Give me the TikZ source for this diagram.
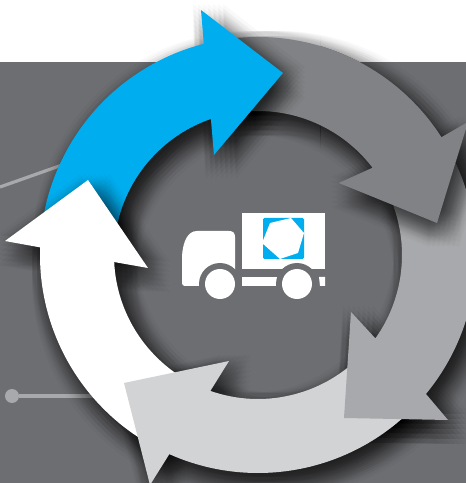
\documentclass[tikz,border=0pt]{standalone}
\usepackage{amsmath,amssymb}

\definecolor{plate}{HTML}{6D6E71}
\definecolor{skyarrow}{HTML}{00AEEF}
\definecolor{darkarrow}{HTML}{808285}
\definecolor{midarrow}{HTML}{A7A9AC}
\definecolor{palearrow}{HTML}{D1D3D4}

% outer arc from #1 to #2, the head #3, inner arc from #4 back to #1
\newcommand{\bandarrow}[4]{({258+218*cos(#1)},{228+218*sin(#1)}) arc[start angle=#1, end angle=#2, radius=218] #3
  -- ({258+144*cos(#4)},{228+144*sin(#4)}) arc[start angle=#4, end angle=#1, radius=144] -- cycle}
\newcommand{\softshadow}[1]{\foreach \dx in {-15,-10,...,15}{\foreach \dy in {-15,-10,...,15}{\fill[shadowlayer, shift={(7+\dx,-9+\dy)}] #1;}}}

\newcommand{\skypath}{\bandarrow{175}{104.4}{-- (201,473) -- (283,410) -- (214,328)}{109.1}}
\newcommand{\darkpath}{\bandarrow{100}{32.7}{-- (468,361) -- (437,260) -- (339,300)}{37.3}}
\newcommand{\midpath}{\bandarrow{25}{-39.6}{-- (448,63) -- (344,65) -- (351,171)}{-35.4}}
\newcommand{\palepath}{\bandarrow{-45}{-114}{-- (150,-2) -- (124,100) -- (229,122)}{-109.3}}
\newcommand{\whitepath}{\bandarrow{243}{178}{-- (5,242) -- (88,303) -- (148,215)}{182.8}}

\begin{document}
\begin{tikzpicture}[
  x=0.75pt, y=0.75pt,
  shadowlayer/.style={black, fill opacity=0.024},
  leader/.style={midarrow, line width=2.4pt},
  truckpart/.style={fill=white},
  wheelgap/.style={fill=plate, circle, minimum size=31.5pt, inner sep=0pt},
  wheelnode/.style={fill=white, circle, minimum size=22.5pt, inner sep=0pt}]
\useasboundingbox (0,0) rectangle (466,483);
\fill[white] (0,0) rectangle (466,483);
\fill[plate] (0,0) rectangle (466,421);

% leaders behind the ring
\node[fill=midarrow, circle, minimum size=10.5pt, inner sep=0pt] (dot) at (12,87) {};
\coordinate (dotend) at (95,87);
\coordinate (topstart) at (0,296);
\coordinate (topend) at (65,319);
\draw[leader] (dot) -- (dotend);
\draw[leader] (topstart) -- (topend);

% tail of the dark arrow goes under the blue head
\begin{scope}
  \clip (0,0) rectangle (320,483);
  \softshadow{\darkpath}
\end{scope}
\fill[darkarrow] \darkpath;

\softshadow{\skypath}
\fill[skyarrow] \skypath;
% white, pale and mid throw no shadow on one another
\softshadow{\whitepath}
\softshadow{\palepath}
\softshadow{\midpath}
\fill[white] \whitepath;
\fill[palearrow] \palepath;
\fill[midarrow] \midpath;

% head of the dark arrow lies over the mid arrow
\begin{scope}
  \clip (320,0) rectangle (466,483);
  \softshadow{\darkpath}
  \fill[darkarrow] \darkpath;
\end{scope}

% truck
\fill[truckpart] (242,214) rectangle (325,270);
\fill[skyarrow, rounded corners=1pt] (263,224) rectangle (304,265);
\fill[white] (270,260) -- (291,265) -- (304,250) -- (298,230) -- (280,224) -- (262,240) -- cycle;
\fill[truckpart] (184,197) -- (182,199) -- (182,227) .. controls (183,242) and (188,252) .. (197,252) -- (229,252) .. controls (233,252) and (235,250) .. (235,246) -- (235,197) -- cycle;
\fill[truckpart] (242,197) rectangle (277,206);
\fill[truckpart] (319,206) -- (325,206) -- (325,197) -- (320,197) -- cycle;
\node[wheelgap] (gapa) at (220,199) {};
\node[wheelgap] (gapb) at (297,199) {};
\node[wheelnode] (wheela) at (220,199) {};
\node[wheelnode] (wheelb) at (297,199) {};
\end{tikzpicture}
\end{document}
